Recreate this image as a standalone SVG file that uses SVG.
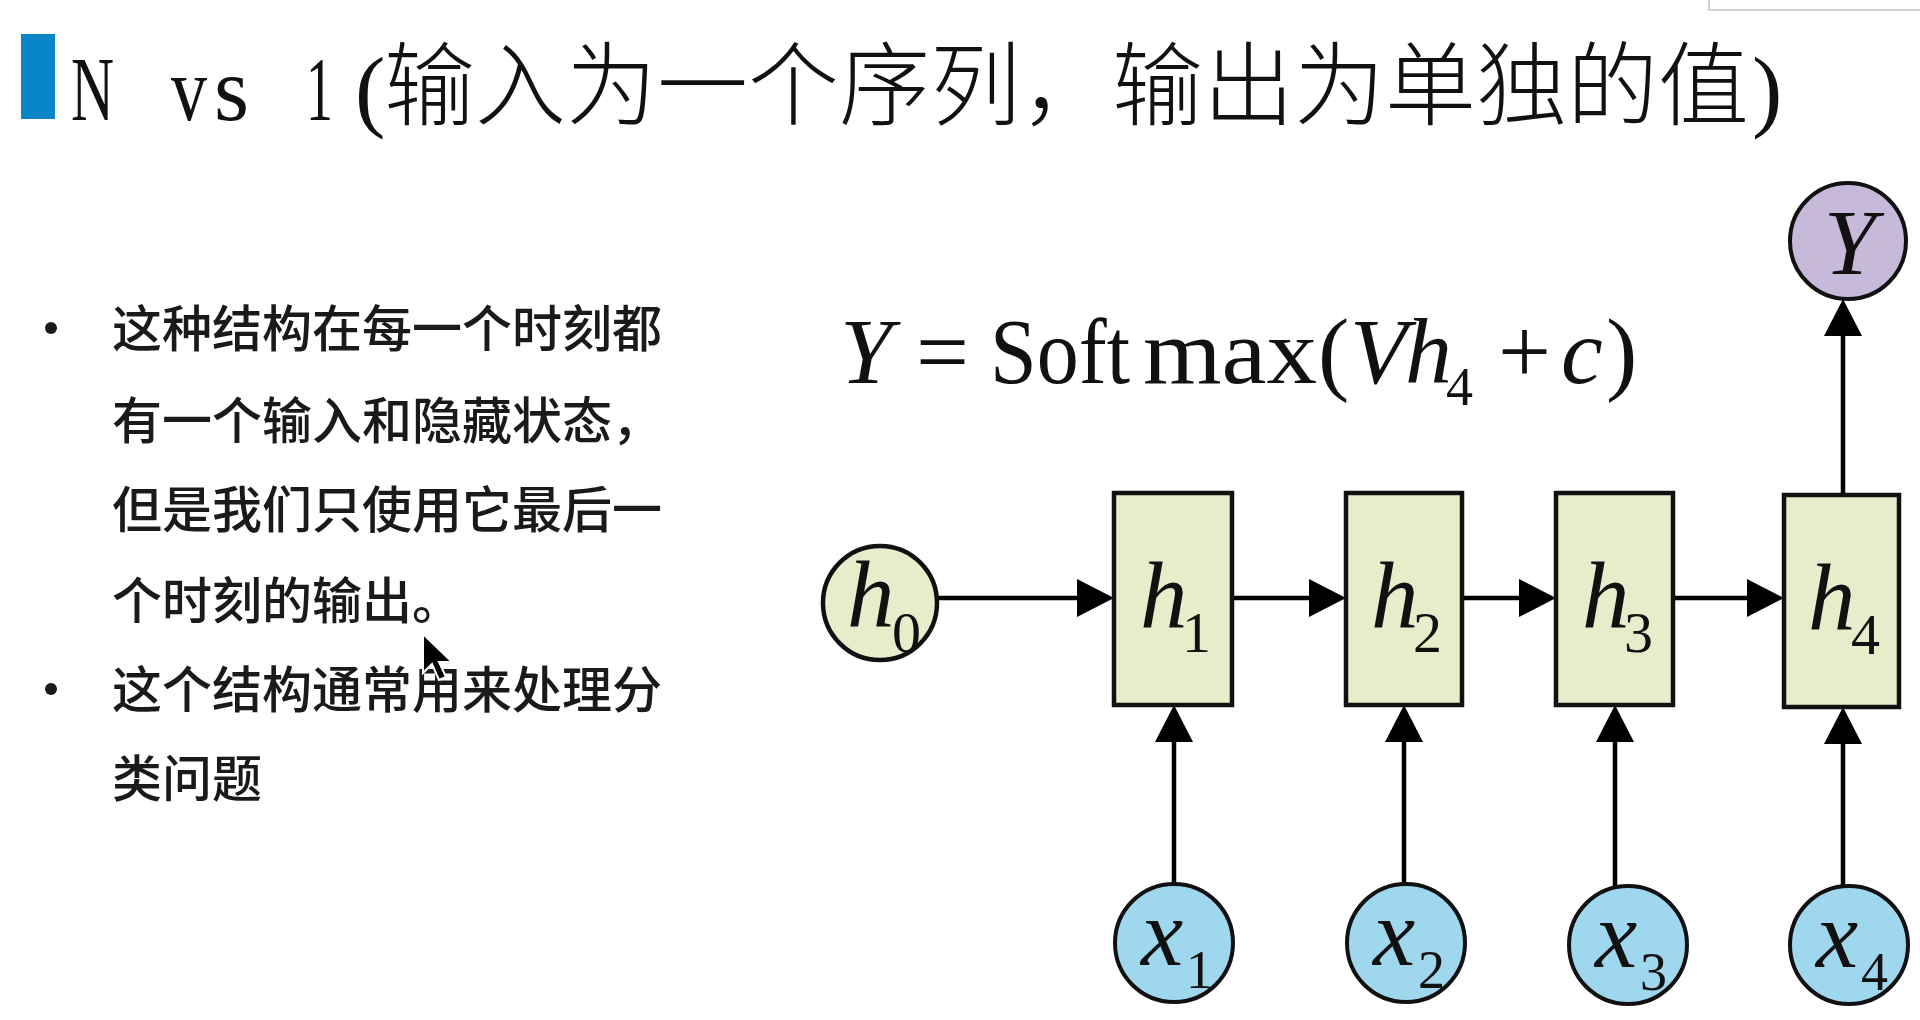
<svg xmlns="http://www.w3.org/2000/svg" width="1920" height="1020" viewBox="0 0 1920 1020">
<style>
.title{font-family:"Noto Sans CJK SC",sans-serif;font-size:91px;font-weight:300;fill:#111}
.tlat{font-family:"Liberation Serif",serif;font-size:91px;fill:#111}
.bul{font-family:"Noto Sans CJK SC",sans-serif;font-size:50px;font-weight:500;fill:#1a1a1a}
.math{font-family:"Liberation Serif",serif;fill:#111}
.it{font-style:italic}
.big{font-size:95px}
.sub{font-size:58px}
.xsub{font-size:54px}
.hnode{fill:#e9ecca;stroke:#111;stroke-width:4.5}
.xnode{fill:#9fd7ee;stroke:#111;stroke-width:4}
.ynode{fill:#c7b9da;stroke:#111;stroke-width:4}
.edge{stroke:#000;stroke-width:4.5;fill:none;marker-end:url(#ah)}
</style>
<defs>
<marker id="ah" viewBox="0 0 37 38" refX="17" refY="19" markerWidth="37" markerHeight="38" markerUnits="userSpaceOnUse" orient="auto">
<path d="M0,0 L37,19 L0,38 Z" fill="#000"/>
</marker>
</defs>
<rect width="1920" height="1020" fill="#fff"/>
<rect x="1709" y="-2" width="215" height="12" fill="#fff" stroke="#d0d0d0" stroke-width="2"/>

<g id="title">
<rect x="21" y="34" width="34" height="85" fill="#0a86c8"/>
<text class="tlat" x="71" y="120" font-weight="300" textLength="43" lengthAdjust="spacingAndGlyphs">N</text>
<text class="tlat" x="171" y="120" textLength="36" lengthAdjust="spacingAndGlyphs">v</text>
<text class="tlat" x="214" y="120" textLength="35" lengthAdjust="spacingAndGlyphs">s</text>
<text class="tlat" x="306" y="120" textLength="27" lengthAdjust="spacingAndGlyphs">1</text>
<text class="tlat" x="355" y="120">(</text>
<text class="title" x="384" y="118">输入为一个序列，输出为单独的值</text>
<text class="tlat" x="1752" y="120">)</text>
</g>

<g id="bullets">
<circle cx="51" cy="328" r="6" fill="#1a1a1a"/>
<circle cx="51" cy="689" r="6" fill="#1a1a1a"/>
<text class="bul" x="112" y="347">这种结构在每一个时刻都</text>
<text class="bul" x="112" y="439">有一个输入和隐藏状态，</text>
<text class="bul" x="112" y="528">但是我们只使用它最后一</text>
<text class="bul" x="112" y="619">个时刻的输出。</text>
<text class="bul" x="112" y="708">这个结构通常用来处理分</text>
<text class="bul" x="112" y="797">类问题</text>
</g>

<g id="formula" class="math">
<text class="it" x="840" y="383" font-size="94">Y</text>
<text x="916" y="383" font-size="94">=</text>
<text x="990" y="383" font-size="94" textLength="140" lengthAdjust="spacingAndGlyphs">Soft</text>
<text x="1143" y="383" font-size="94" textLength="174" lengthAdjust="spacingAndGlyphs">max</text>
<text x="1318" y="383" font-size="94">(</text>
<text class="it" x="1350" y="383" font-size="94">V</text>
<text class="it" x="1405" y="383" font-size="94">h</text>
<text x="1446" y="405" font-size="54">4</text>
<text x="1498" y="383" font-size="94">+</text>
<text class="it" x="1561" y="383" font-size="94">c</text>
<text x="1606" y="383" font-size="94">)</text>
</g>

<g id="connectors">
<line class="edge" x1="937" y1="598" x2="1094" y2="598"/>
<line class="edge" x1="1232" y1="598" x2="1326" y2="598"/>
<line class="edge" x1="1462" y1="598" x2="1536" y2="598"/>
<line class="edge" x1="1673" y1="598" x2="1764" y2="598"/>
<line class="edge" x1="1174" y1="884" x2="1174" y2="725"/>
<line class="edge" x1="1404" y1="884" x2="1404" y2="725"/>
<line class="edge" x1="1615" y1="886" x2="1615" y2="725"/>
<line class="edge" x1="1843" y1="886" x2="1843" y2="727"/>
<line class="edge" x1="1843" y1="495" x2="1843" y2="319"/>
</g>

<g id="node-h0">
<circle class="hnode" cx="880" cy="603" r="57" stroke-width="4"/>
<text class="math it big" x="847" y="627">h</text>
<text class="math sub" x="892" y="652">0</text>
</g>
<g id="node-h1">
<rect class="hnode" x="1114" y="493" width="118" height="212"/>
<text class="math it big" x="1140" y="628">h</text>
<text class="math sub" x="1182" y="652">1</text>
</g>
<g id="node-h2">
<rect class="hnode" x="1346" y="493" width="116" height="212"/>
<text class="math it big" x="1371" y="628">h</text>
<text class="math sub" x="1413" y="652">2</text>
</g>
<g id="node-h3">
<rect class="hnode" x="1556" y="493" width="117" height="212"/>
<text class="math it big" x="1582" y="628">h</text>
<text class="math sub" x="1624" y="652">3</text>
</g>
<g id="node-h4">
<rect class="hnode" x="1784" y="495" width="115" height="212"/>
<text class="math it big" x="1808" y="630">h</text>
<text class="math sub" x="1851" y="654">4</text>
</g>
<g id="node-Y">
<circle class="ynode" cx="1848" cy="241" r="58"/>
<text class="math it" x="1850" y="274" font-size="94" text-anchor="middle">Y</text>
</g>
<g id="node-x1">
<circle class="xnode" cx="1174" cy="943" r="59"/>
<text class="math it big" x="1141" y="965">x</text>
<text class="math xsub" x="1186" y="988">1</text>
</g>
<g id="node-x2">
<circle class="xnode" cx="1406" cy="943" r="59"/>
<text class="math it big" x="1373" y="965">x</text>
<text class="math xsub" x="1418" y="988">2</text>
</g>
<g id="node-x3">
<circle class="xnode" cx="1628" cy="945" r="59"/>
<text class="math it big" x="1595" y="967">x</text>
<text class="math xsub" x="1640" y="990">3</text>
</g>
<g id="node-x4">
<circle class="xnode" cx="1849" cy="945" r="59"/>
<text class="math it big" x="1816" y="967">x</text>
<text class="math xsub" x="1861" y="990">4</text>
</g>

<path d="M423,634 L423,673 L432,664 L439,680 L446,677 L439,662 L452,662 Z" fill="#000" stroke="#fff" stroke-width="2"/>
</svg>
